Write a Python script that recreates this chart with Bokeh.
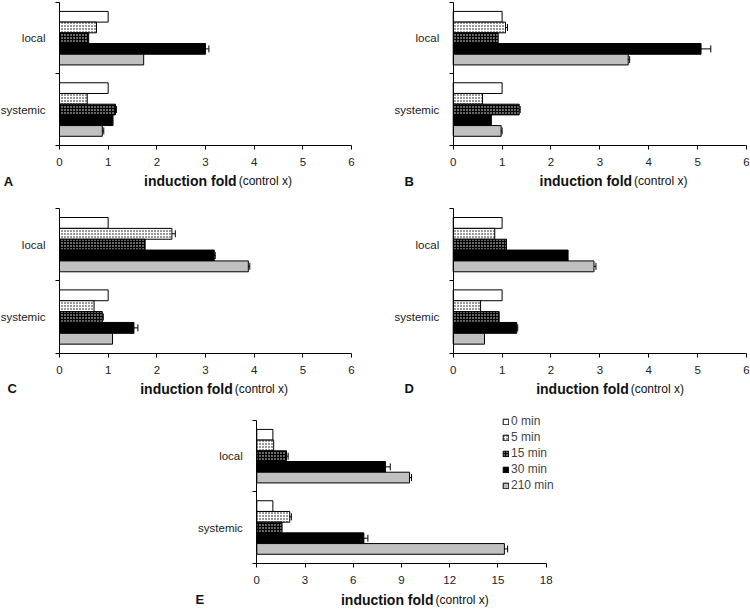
from bokeh.plotting import figure
from bokeh.models import (ColumnDataSource, Range1d, FixedTicker, Whisker, TeeHead,
                          Label, Legend, LegendItem, Spacer)
from bokeh.layouts import column, row
from bokeh.transform import dodge
from bokeh.embed import file_html
from bokeh.resources import INLINE

categories = ["local", "systemic"]
series = ["0 min", "5 min", "15 min", "30 min", "210 min"]

a_local = [1.0, 0.76, 0.60, 3.00, 1.73]
a_local_err = [0, 0, 0, 0.07, 0]
a_sys = [1.0, 0.57, 1.15, 1.10, 0.88]
a_sys_err = [0, 0, 0.02, 0, 0.03]

b_local = [1.0, 1.07, 0.92, 5.07, 3.58]
b_local_err = [0, 0.04, 0, 0.20, 0.03]
b_sys = [1.0, 0.60, 1.35, 0.78, 0.98]
b_sys_err = [0, 0, 0.02, 0, 0.02]

c_local = [1.0, 2.31, 1.76, 3.18, 3.88]
c_local_err = [0, 0.07, 0, 0.02, 0.03]
c_sys = [1.0, 0.71, 0.88, 1.53, 1.09]
c_sys_err = [0, 0, 0.02, 0.08, 0]

d_local = [1.0, 0.85, 1.09, 2.35, 2.88]
d_local_err = [0, 0, 0, 0, 0.04]
d_sys = [1.0, 0.56, 0.94, 1.30, 0.64]
d_sys_err = [0, 0, 0, 0.02, 0]

e_local = [1.0, 1.05, 1.85, 8.0, 9.5]
e_local_err = [0, 0, 0.1, 0.3, 0.12]
e_sys = [1.0, 2.05, 1.57, 6.66, 15.4]
e_sys_err = [0, 0.1, 0, 0.25, 0.2]

FONT = "Liberation Sans"
STYLES = [
    dict(fill_color="white"),
    dict(fill_color="white", hatch_pattern="dot", hatch_color="black", hatch_scale=3, hatch_weight=1),
    dict(fill_color="black", hatch_pattern="dot", hatch_color="white", hatch_scale=3, hatch_weight=1),
    dict(fill_color="black"),
    dict(fill_color="#c0c0c0"),
]
OFFSETS = [0.3, 0.15, 0.0, -0.15, -0.3]
BAR_H = 0.15


def panel(letter, local, local_err, systemic, systemic_err, xmax, xstep,
          width, height, xr, yr, split_x, letter_x, label_y, legend_loc=None):
    n = len(categories)
    centers = [n - i - 0.5 for i in range(n)]
    p = figure(width=width, height=height, x_range=Range1d(*xr), y_range=Range1d(*yr),
               output_backend="svg", toolbar_location=None,
               min_border_left=0, min_border_right=0, min_border_top=0, min_border_bottom=0)
    p.background_fill_color = "white"
    p.border_fill_color = "white"
    p.outline_line_color = None
    p.xgrid.visible = False
    p.ygrid.visible = False

    vals = [local, systemic]
    errs = [local_err, systemic_err]
    items = []
    for j, s in enumerate(series):
        src = ColumnDataSource(dict(ypos=centers, val=[v[j] for v in vals]))
        r = p.hbar(y=dodge("ypos", OFFSETS[j]), left=0, right="val", height=BAR_H,
                   line_color="black", line_width=1, source=src, **STYLES[j])
        items.append(LegendItem(label=s, renderers=[r]))
        wy, lo, hi = [], [], []
        for i in range(n):
            e = errs[i][j]
            if e > 0:
                wy.append(centers[i])
                lo.append(vals[i][j] - e)
                hi.append(vals[i][j] + e)
        if wy:
            wsrc = ColumnDataSource(dict(ypos=wy, lo=lo, hi=hi))
            w = Whisker(source=wsrc, base=dodge("ypos", OFFSETS[j]), lower="lo", upper="hi",
                        dimension="width", line_color="black", line_width=1,
                        upper_head=TeeHead(size=7, line_color="black", line_width=1),
                        lower_head=TeeHead(size=7, line_color="black", line_width=1))
            p.add_layout(w)

    xa = p.xaxis[0]
    xa.fixed_location = 0
    xa.bounds = (0, xmax)
    xa.ticker = FixedTicker(ticks=list(range(0, xmax + 1, xstep)))
    xa.major_tick_out = 4
    xa.major_tick_in = 0
    xa.minor_tick_out = 0
    xa.major_label_standoff = 9
    xa.major_label_text_font = FONT
    xa.major_label_text_font_size = "11.5px"
    xa.major_label_text_color = "#222222"
    xa.axis_line_color = "black"
    xa.major_tick_line_color = "black"

    ya = p.yaxis[0]
    ya.fixed_location = 0
    ya.bounds = (0, n)
    ya.ticker = FixedTicker(ticks=centers, minor_ticks=list(range(0, n + 1)))
    ya.major_label_overrides = {c: cat for c, cat in zip(centers, categories)}
    ya.major_tick_out = 0
    ya.major_tick_in = 0
    ya.minor_tick_out = 4
    ya.minor_tick_in = 0
    ya.minor_tick_line_color = "black"
    ya.major_label_standoff = 10
    ya.major_label_text_font = FONT
    ya.major_label_text_font_size = "11.5px"
    ya.major_label_text_color = "#222222"
    ya.axis_line_color = "black"

    p.add_layout(Label(x=split_x, y=label_y, text="induction fold", text_align="right",
                       text_baseline="alphabetic", text_font=FONT, text_font_style="bold",
                       text_font_size="14px", text_color="#111111"))
    p.add_layout(Label(x=split_x, y=label_y, x_offset=2, text="(control x)",
                       text_align="left", text_baseline="alphabetic", text_font=FONT,
                       text_font_size="12px", text_color="#111111"))
    p.add_layout(Label(x=letter_x, y=label_y, text=letter, text_align="left",
                       text_baseline="alphabetic", text_font=FONT, text_font_style="bold",
                       text_font_size="13px", text_color="#111111"))

    if legend_loc is not None:
        lg = Legend(items=items, location=legend_loc, padding=0, margin=0, spacing=2,
                    glyph_width=7, glyph_height=7, label_height=13, label_standoff=2,
                    label_text_font=FONT, label_text_font_size="12px",
                    background_fill_alpha=0, border_line_color=None)
        p.add_layout(lg)
    return p


ROW1_Y = (-0.845, 2.028)
ROW2_Y = (-0.778, 2.041)
ROW3_Y = (-0.649, 2.154)
LEFT_X = (-1.212, 6.493)
RIGHT_X = (-1.590, 6.082)

pA = panel("A", a_local, a_local_err, a_sys, a_sys_err, 6, 1, 375, 205, LEFT_X, ROW1_Y, 3.64, -1.144, -0.505)
pB = panel("B", b_local, b_local_err, b_sys, b_sys_err, 6, 1, 375, 205, RIGHT_X, ROW1_Y, 3.66, -0.996, -0.505)
pC = panel("C", c_local, c_local_err, c_sys, c_sys_err, 6, 1, 375, 204, LEFT_X, ROW2_Y, 3.56, -1.068, -0.492)
pD = panel("D", d_local, d_local_err, d_sys, d_sys_err, 6, 1, 375, 204, RIGHT_X, ROW2_Y, 3.59, -0.996, -0.492)
pE = panel("E", e_local, e_local_err, e_sys, e_sys_err, 18, 3, 390, 200, (-4.746, 19.511), ROW3_Y,
           10.99, -3.81, -0.509, legend_loc=(322, 117))

layout = column(row(pA, pB), row(pC, pD), row(Spacer(width=180, height=200), pE))

open("out.html", "w").write(file_html(layout, INLINE))
